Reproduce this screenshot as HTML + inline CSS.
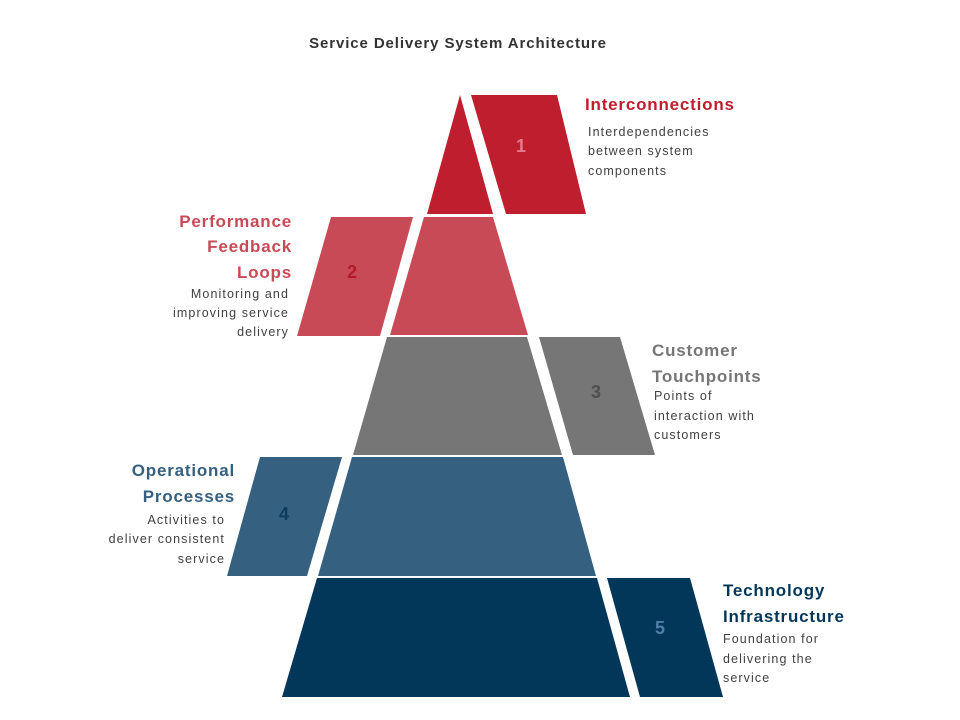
<!DOCTYPE html>
<html><head><meta charset="utf-8"><style>
html,body{margin:0;padding:0;background:#fff;}
svg{display:block;}
text{font-family:"Liberation Sans",sans-serif;}
.h{font-weight:bold;font-size:17px;letter-spacing:0.8px;}
.b{font-size:12.5px;fill:#404040;letter-spacing:1.1px;}
.n{font-weight:bold;font-size:18px;}
</style></head><body>
<svg width="960" height="720" viewBox="0 0 960 720" xmlns="http://www.w3.org/2000/svg">
<text x="458" y="48" text-anchor="middle" font-size="15" font-weight="bold" fill="#333" letter-spacing="0.9">Service Delivery System Architecture</text>

<polygon points="460,95 493,214 427,214" fill="#BE1E2D"/>
<polygon points="471,95 557,95 586,214 506,214" fill="#BE1E2D"/>
<text x="521" y="152" text-anchor="middle" class="n" fill="#E8798C">1</text>

<polygon points="424,217 493,217 528,335 390,335" fill="#C94A57"/>
<polygon points="331,217 413,217 380,336 297,336" fill="#C94A57"/>
<text x="352" y="278" text-anchor="middle" class="n" fill="#B01B2C">2</text>

<polygon points="387,337 527,337 562,455 353,455" fill="#767676"/>
<polygon points="539,337 620,337 655,455 573,455" fill="#767676"/>
<text x="596" y="398" text-anchor="middle" class="n" fill="#4F4F4F">3</text>

<polygon points="352,457 563,457 596,576 318,576" fill="#356080"/>
<polygon points="260,457 342,457 307,576 227,576" fill="#356080"/>
<text x="284" y="520" text-anchor="middle" class="n" fill="#0E3A5E">4</text>

<polygon points="317,578 597,578 630,697 282,697" fill="#03375A"/>
<polygon points="607,578 690,578 723,697 640,697" fill="#03375A"/>
<text x="660" y="634" text-anchor="middle" class="n" fill="#4E7FA8">5</text>

<text x="585" y="110" class="h" fill="#BE1E2D">Interconnections</text>
<text x="588" y="136" class="b">Interdependencies</text>
<text x="588" y="155" class="b">between system</text>
<text x="588" y="175" class="b">components</text>

<text x="292" y="227" text-anchor="end" class="h" fill="#C94A57">Performance</text>
<text x="292" y="252" text-anchor="end" class="h" fill="#C94A57">Feedback</text>
<text x="292" y="278" text-anchor="end" class="h" fill="#C94A57">Loops</text>
<text x="289" y="298" text-anchor="end" class="b">Monitoring and</text>
<text x="289" y="317" text-anchor="end" class="b">improving service</text>
<text x="289" y="336" text-anchor="end" class="b">delivery</text>

<text x="652" y="356" class="h" fill="#767676">Customer</text>
<text x="652" y="382" class="h" fill="#767676">Touchpoints</text>
<text x="654" y="400" class="b">Points of</text>
<text x="654" y="420" class="b">interaction with</text>
<text x="654" y="439" class="b">customers</text>

<text x="235" y="476" text-anchor="end" class="h" fill="#356080">Operational</text>
<text x="235" y="502" text-anchor="end" class="h" fill="#356080">Processes</text>
<text x="225" y="524" text-anchor="end" class="b">Activities to</text>
<text x="225" y="543" text-anchor="end" class="b">deliver consistent</text>
<text x="225" y="563" text-anchor="end" class="b">service</text>

<text x="723" y="596" class="h" fill="#03375A">Technology</text>
<text x="723" y="622" class="h" fill="#03375A">Infrastructure</text>
<text x="723" y="643" class="b">Foundation for</text>
<text x="723" y="663" class="b">delivering the</text>
<text x="723" y="682" class="b">service</text>
</svg>
</body></html>
